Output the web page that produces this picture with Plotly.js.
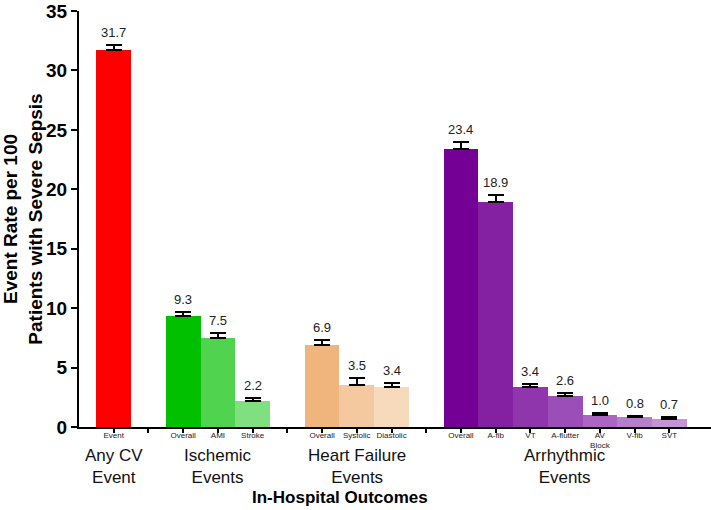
<!DOCTYPE html>
<html>
<head>
<meta charset="utf-8">
<script src="https://cdn.plot.ly/plotly-3.0.1.min.js"></script>
<style>html,body{margin:0;padding:0;background:#fff;}#chart{width:711px;height:510px;}</style>
</head>
<body>
<div id="chart"></div>
<script>
const groups = ["Any CV<br>Event", "Ischemic<br>Events", "Heart Failure<br>Events", "Arrhythmic<br>Events"];
const xTitle = "In-Hospital Outcomes";
const anyCvLabels = ["Event"];
const anyCvRates = [31.7];
const anyCvErrors = [0.45];
const ischemicLabels = ["Overall", "AMI", "Stroke"];
const ischemicRates = [9.3, 7.5, 2.2];
const ischemicErrors = [0.35, 0.4, 0.28];
const hfLabels = ["Overall", "Systolic", "Diastolic"];
const hfRates = [6.9, 3.5, 3.4];
const hfErrors = [0.4, 0.6, 0.28];
const arrLabels = ["Overall", "A-fib", "VT", "A-flutter", "AV<br>Block", "V-fib", "SVT"];
const arrRates = [23.4, 18.9, 3.4, 2.6, 1.0, 0.8, 0.7];
const arrErrors = [0.6, 0.6, 0.25, 0.25, 0.15, 0.15, 0.12];

const anyCvColors = ["#FF0000"];
const ischemicColors = ["#00C000", "#50D450", "#80E080"];
const hfColors = ["#F0B57C", "#F5C9A0", "#F7D9BC"];
const arrColors = ["#750095", "#8420A2", "#9036AD", "#9C4EB8", "#AA66C2", "#B87ECC", "#C594D6"];

const groupData = [
  {labels: anyCvLabels, rates: anyCvRates, errors: anyCvErrors, colors: anyCvColors},
  {labels: ischemicLabels, rates: ischemicRates, errors: ischemicErrors, colors: ischemicColors},
  {labels: hfLabels, rates: hfRates, errors: hfErrors, colors: hfColors},
  {labels: arrLabels, rates: arrRates, errors: arrErrors, colors: arrColors}
];

const FONT = "Liberation Sans, Arial, sans-serif";

// Build category list with a blank slot between groups
const catKeys = [], catText = [], xs = [], ys = [], errs = [], cols = [];
const groupCenters = [];
groupData.forEach((g, gi) => {
  if (gi > 0) { catKeys.push("gap" + gi); catText.push(""); }
  g.labels.forEach((lab, i) => {
    const key = "g" + gi + "_" + lab;
    catKeys.push(key); catText.push(lab);
    xs.push(key); ys.push(g.rates[i]); errs.push(g.errors[i]); cols.push(g.colors[i]);
  });
  groupCenters.push("g" + gi + "_" + g.labels[Math.floor(g.labels.length / 2)]);
});

const bars = {
  type: "bar", x: xs, y: ys,
  marker: {color: cols, line: {width: 0}},
  error_y: {type: "data", array: errs, symmetric: false, arrayminus: errs.map(() => 0), color: "#000", thickness: 2, width: 8},
  hoverinfo: "skip", showlegend: false
};

const valueAnnotations = ys.map((v, i) => ({
  x: xs[i], y: v + errs[i], xref: "x", yref: "y", yanchor: "bottom",
  yshift: 3, text: v.toFixed(1), showarrow: false,
  font: {family: FONT, size: 13, color: "#222"}
}));

const groupAnnotations = groups.map((g, i) => ({
  x: groupCenters[i], y: 0, xref: "x", yref: "paper", yanchor: "top",
  yshift: -17, text: g, showarrow: false,
  font: {family: FONT, size: 17, color: "#111"}
}));

const titleAnnotation = {
  x: 0.413, y: 0, xref: "paper", yref: "paper", yanchor: "middle", xanchor: "center",
  yshift: -70, text: "<b>" + xTitle + "</b>", showarrow: false,
  font: {family: FONT, size: 17, color: "#000"}
};

const layout = {
  width: 711, height: 510,
  margin: {l: 79, r: 0, t: 11, b: 83},
  paper_bgcolor: "#fff", plot_bgcolor: "#fff",
  bargap: 0,
  xaxis: {
    type: "category", categoryorder: "array", categoryarray: catKeys,
    tickvals: catKeys, ticktext: catText,
    range: [-1, catKeys.length + 0.2],
    showline: true, linecolor: "#000", linewidth: 2,
    ticks: "outside", ticklen: 4, tickwidth: 2, tickcolor: "#000",
    ticklabelstandoff: -5,
    tickfont: {family: FONT, size: 8, color: "#222"},
    showgrid: false, zeroline: false, fixedrange: true
  },
  yaxis: {
    range: [0, 35], tickvals: [0, 5, 10, 15, 20, 25, 30, 35],
    showline: true, linecolor: "#000", linewidth: 2,
    ticks: "outside", ticklen: 6, tickwidth: 2, tickcolor: "#000",
    tickfont: {family: FONT, size: 19, color: "#000", weight: "bold"},
    showgrid: false, zeroline: false, fixedrange: true,
    title: {text: "Event Rate per 100<br>Patients with Severe Sepsis", standoff: 4,
      font: {family: FONT, size: 19, color: "#000", weight: "bold"}}
  },
  annotations: valueAnnotations.concat(groupAnnotations, [titleAnnotation])
};

Plotly.newPlot("chart", [bars], layout, {staticPlot: true});
</script>
</body>
</html>
